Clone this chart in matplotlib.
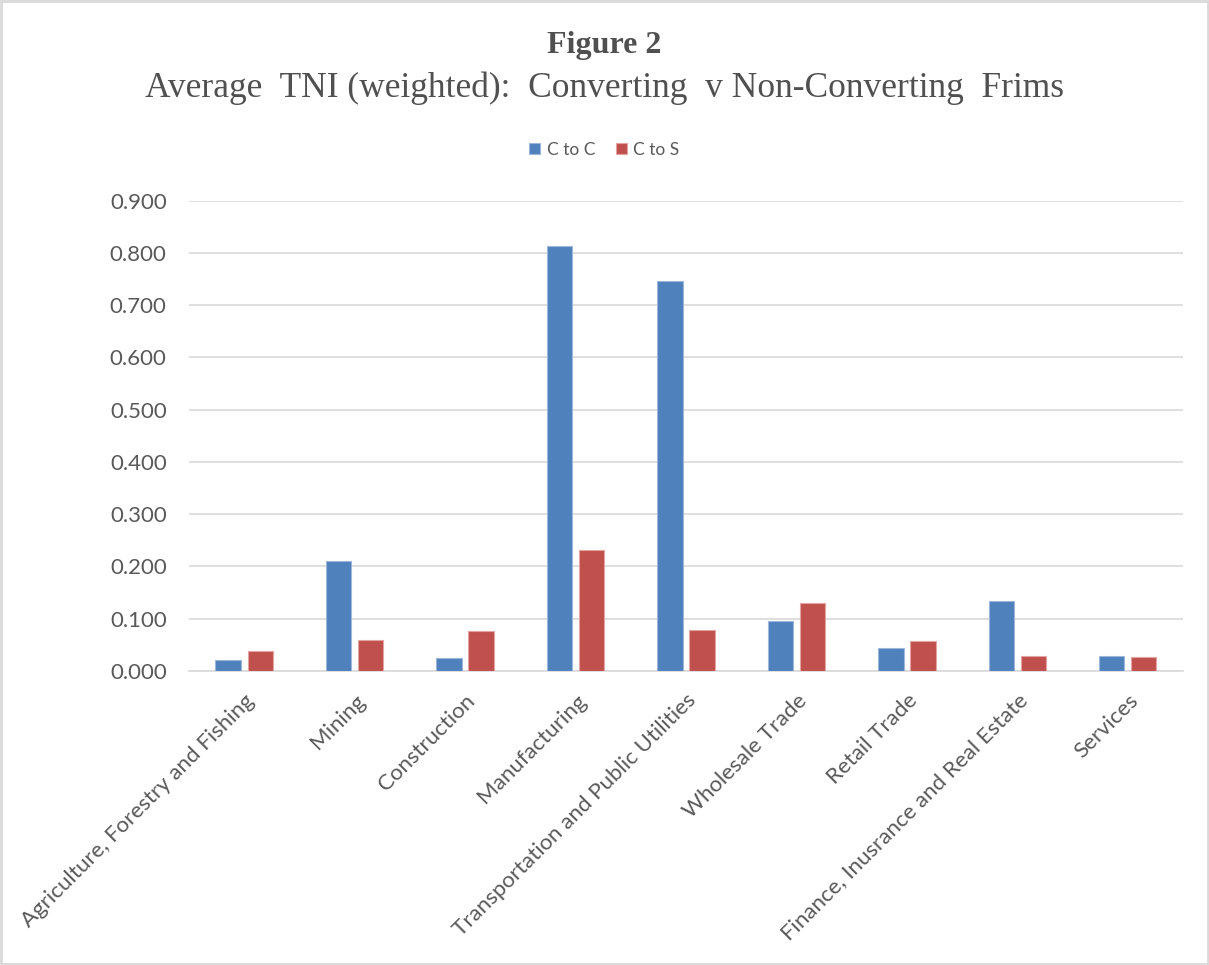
import numpy as np
import matplotlib.pyplot as plt
from matplotlib.patches import Rectangle

sectors = ['Agriculture, Forestry and Fishing', 'Mining', 'Construction',
           'Manufacturing', 'Transportation and Public Utilities',
           'Wholesale Trade', 'Retail Trade',
           'Finance, Inusrance and Real Estate', 'Services']
c_to_c = [0.021, 0.211, 0.025, 0.813, 0.746, 0.096, 0.043, 0.133, 0.028]
c_to_s = [0.038, 0.060, 0.077, 0.231, 0.079, 0.131, 0.058, 0.028, 0.026]
yticks = [0.0, 0.1, 0.2, 0.3, 0.4, 0.5, 0.6, 0.7, 0.8, 0.9]

blue = '#4F81BD'
red = '#C0504D'
grey = '#595959'
font = 'Lato'

fig = plt.figure(figsize=(12.09, 9.65), dpi=100)
ax = fig.add_axes([0.1563, 0.3047, 0.8222, 0.4873])

x = np.arange(len(sectors))
w = 0.23
ax.bar(x - 0.145, c_to_c, w, color=blue, edgecolor='#9DB7DB', linewidth=0.8,
       label='C to C', zorder=3)
ax.bar(x + 0.145, c_to_s, w, color=red, edgecolor='#E3A3A1', linewidth=0.8,
       label='C to S', zorder=3)

ax.set_xlim(-0.5, len(sectors) - 0.5)
ax.set_ylim(0, 0.9)
ax.set_yticks(yticks)
ax.set_yticklabels([f'{v:.3f}' for v in yticks], fontsize=16, color=grey,
                   family=font)
ax.set_xticks(x)
ax.set_xticklabels(sectors, rotation=45, ha='right', rotation_mode='anchor',
                   fontsize=16, color=grey, family=font)
ax.tick_params(axis='y', length=0, pad=16)
ax.tick_params(axis='x', length=0, pad=14)
ax.grid(axis='y', color='#D9D9D9', linewidth=1.2, zorder=0)
for s in ['top', 'right', 'left']:
    ax.spines[s].set_visible(False)
ax.spines['bottom'].set_color('#D9D9D9')
ax.spines['bottom'].set_linewidth(1.2)

fig.text(0.5, 0.953, 'Figure 2', ha='center', va='center', fontsize=23,
         fontweight='bold', family='Liberation Serif', color='#505050')
fig.text(0.5, 0.909, 'Average  TNI (weighted):  Converting  v Non-Converting  Frims',
         ha='center', va='center', fontsize=25.5, family='Liberation Serif',
         color='#505050')

leg = fig.legend(loc='center', bbox_to_anchor=(0.5, 0.845), ncol=2,
                 frameon=False, handlelength=0.6, handleheight=0.6,
                 handletextpad=0.4, columnspacing=1.2,
                 prop={'family': font, 'size': 12.5})
for t in leg.get_texts():
    t.set_color(grey)

fig.patches.append(Rectangle((0.001, 0.001), 0.998, 0.998, transform=fig.transFigure,
                             fill=False, edgecolor='#D9D9D9', linewidth=2))

fig.savefig('out.png', dpi=100)
